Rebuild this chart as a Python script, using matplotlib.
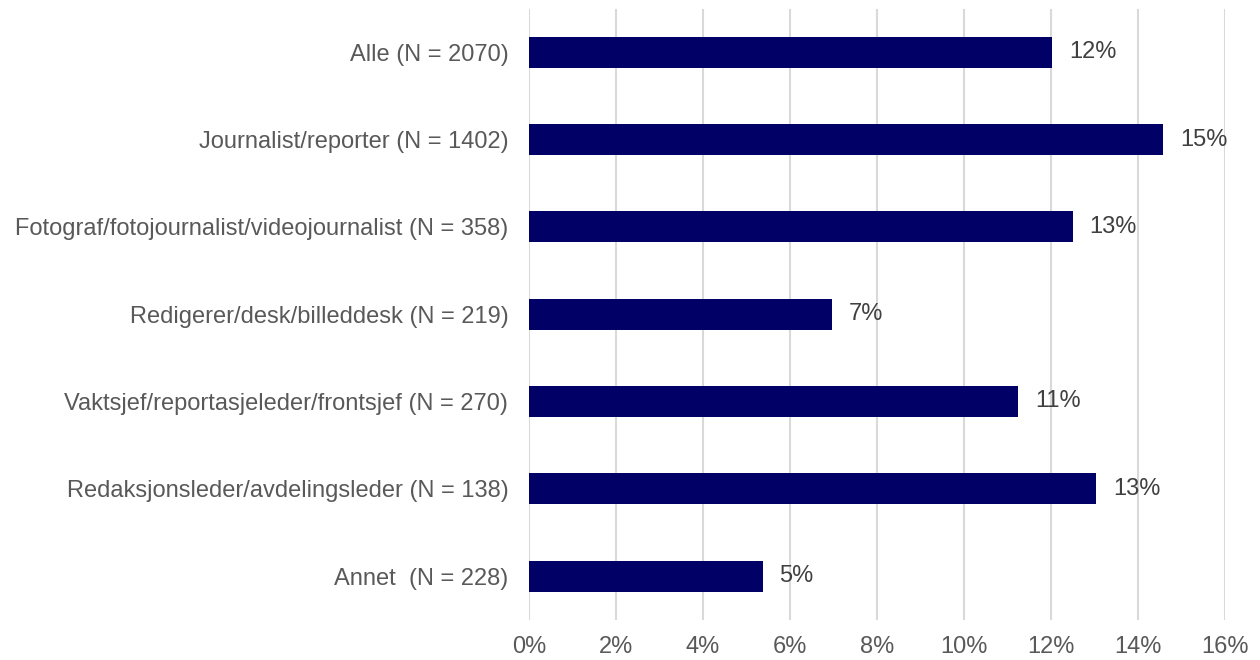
import matplotlib.pyplot as plt
from matplotlib.ticker import FuncFormatter

plt.rcParams['font.family'] = ['Liberation Sans', 'DejaVu Sans']

categories = ['Alle (N = 2070)',
              'Journalist/reporter (N = 1402)',
              'Fotograf/fotojournalist/videojournalist (N = 358)',
              'Redigerer/desk/billeddesk (N = 219)',
              'Vaktsjef/reportasjeleder/frontsjef (N = 270)',
              'Redaksjonsleder/avdelingsleder (N = 138)',
              'Annet  (N = 228)']
values = [12.03, 14.58, 12.5, 6.97, 11.24, 13.04, 5.37]
value_labels = ['12%', '15%', '13%', '7%', '11%', '13%', '5%']

fig = plt.figure(figsize=(12.6, 6.6), dpi=100)
ax = fig.add_axes([0.42, 0.061, 0.552, 0.926])

pos = list(range(len(categories)))[::-1]
ax.barh(pos, values, height=0.355, color='#000066', zorder=3)

for p, v, t in zip(pos, values, value_labels):
    ax.text(v + 0.39, p, t, va='center', ha='left', fontsize=17, color='#404040')

ax.set_yticks(pos)
ax.set_yticklabels(categories, fontsize=17, color='#595959')
ax.set_ylim(-0.5, len(categories) - 0.5)

ax.set_xlim(0, 16)
ax.set_xticks(range(0, 17, 2))
ax.xaxis.set_major_formatter(FuncFormatter(lambda x, _: f'{int(x)}%'))
ax.tick_params(axis='x', labelsize=17, colors='#595959', length=0, pad=12)
ax.tick_params(axis='y', length=0, pad=15)

ax.grid(axis='x', color='#d9d9d9', linewidth=1.5, zorder=0)
for s in ax.spines.values():
    s.set_visible(False)

plt.savefig('out.png', dpi=100)
